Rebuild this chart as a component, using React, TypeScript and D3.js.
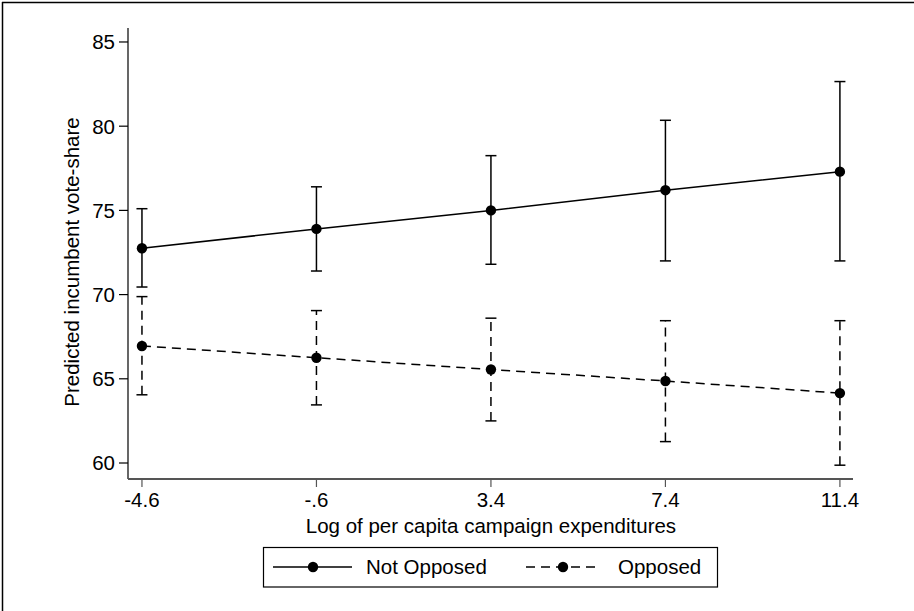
import React from "react";
import * as d3 from "d3";

// x positions (log of per capita campaign expenditures)
const xValues = [-4.6, -0.6, 3.4, 7.4, 11.4];
const xTicks = [-4.6, -0.6, 3.4, 7.4, 11.4];
const xTickLabels = ["-4.6", "-.6", "3.4", "7.4", "11.4"];
const yTicks = [60, 65, 70, 75, 80, 85];

// not opposed
const notOpposed = [72.75, 73.9, 75.0, 76.2, 77.3];
const notOpposedLo = [70.45, 71.4, 71.8, 72.0, 72.0];
const notOpposedHi = [75.1, 76.4, 78.25, 80.35, 82.65];

// opposed
const opposed = [66.95, 66.25, 65.55, 64.87, 64.15];
const opposedLo = [64.05, 63.45, 62.5, 61.27, 59.87];
const opposedHi = [69.88, 69.05, 68.6, 68.45, 68.45];

const seriesNames = ["Not Opposed", "Opposed"];

const W = 914;
const H = 611;
const margin = { top: 28, left: 128, right: 61, bottom: 132 };
const font = "'Liberation Sans', Arial, sans-serif";
const fs = 20.5;

const App = () => {
  const x = d3
    .scaleLinear()
    .domain([-4.92, 11.7])
    .range([margin.left, W - margin.right]);
  const y = d3
    .scaleLinear()
    .domain([59.05, 85.83])
    .range([H - margin.bottom, margin.top]);

  const line = d3
    .line<number>()
    .x((_, i) => x(xValues[i]))
    .y((d) => y(d));

  const series = [
    { vals: notOpposed, lo: notOpposedLo, hi: notOpposedHi, dash: undefined },
    { vals: opposed, lo: opposedLo, hi: opposedHi, dash: "9,6" },
  ];

  const x0 = margin.left;
  const yBase = H - margin.bottom;
  const cap = 5.5;

  return (
    <svg
      width={W}
      height={H}
      style={{ position: "absolute", left: 0, top: 0, background: "#fff" }}
      fontFamily={font}
    >
      <rect x={0} y={0} width={W} height={H} fill="#fff" />
      {/* outer frame */}
      <line x1={2} y1={2.5} x2={W} y2={2.5} stroke="#000" strokeWidth={1.5} />
      <line x1={2.5} y1={2} x2={2.5} y2={H} stroke="#000" strokeWidth={1.5} />

      {/* y axis */}
      <line x1={x0} y1={margin.top} x2={x0} y2={yBase} stroke="#000" strokeWidth={1.2} />
      {yTicks.map((t) => (
        <g key={t}>
          <line x1={x0 - 9} x2={x0} y1={y(t)} y2={y(t)} stroke="#000" strokeWidth={1.2} />
          <text x={x0 - 13} y={y(t)} dy="0.36em" textAnchor="end" fontSize={fs}>
            {t}
          </text>
        </g>
      ))}
      <text
        transform={`translate(79,262) rotate(-90)`}
        textAnchor="middle"
        fontSize={fs}
      >
        Predicted incumbent vote-share
      </text>

      {/* x axis */}
      <line x1={x0} y1={yBase} x2={W - margin.right} y2={yBase} stroke="#555" strokeWidth={2} />
      {xTicks.map((t, i) => (
        <g key={t}>
          <line x1={x(t)} x2={x(t)} y1={yBase} y2={yBase + 8} stroke="#555" strokeWidth={1.2} />
          <text x={x(t)} y={yBase + 28} textAnchor="middle" fontSize={fs}>
            {xTickLabels[i]}
          </text>
        </g>
      ))}
      <text x={x(3.4)} y={yBase + 54} textAnchor="middle" fontSize={fs}>
        Log of per capita campaign expenditures
      </text>

      {/* series */}
      {series.map((s, si) => (
        <g key={si}>
          {s.vals.map((_, i) => {
            const cx = x(xValues[i]);
            return (
              <g key={i} stroke="#000" strokeWidth={1.5}>
                <line x1={cx} x2={cx} y1={y(s.lo[i])} y2={y(s.hi[i])} strokeDasharray={s.dash} />
                <line x1={cx - cap} x2={cx + cap} y1={y(s.lo[i])} y2={y(s.lo[i])} />
                <line x1={cx - cap} x2={cx + cap} y1={y(s.hi[i])} y2={y(s.hi[i])} />
              </g>
            );
          })}
          <path d={line(s.vals) || ""} fill="none" stroke="#000" strokeWidth={1.5} strokeDasharray={s.dash} />
          {s.vals.map((v, i) => (
            <circle key={i} cx={x(xValues[i])} cy={y(v)} r={5.2} fill="#000" />
          ))}
        </g>
      ))}

      {/* legend */}
      <rect x={263.5} y={547.5} width={454} height={39.5} fill="#fff" stroke="#000" strokeWidth={1.2} />
      <line x1={273} x2={352} y1={567} y2={567} stroke="#000" strokeWidth={1.5} />
      <circle cx={313} cy={567} r={5.2} fill="#000" />
      <text x={366} y={567} dy="0.36em" fontSize={fs}>
        {seriesNames[0]}
      </text>
      <line x1={526} x2={601} y1={567} y2={567} stroke="#000" strokeWidth={1.5} strokeDasharray="9,6" />
      <circle cx={563} cy={567} r={5.2} fill="#000" />
      <text x={618} y={567} dy="0.36em" fontSize={fs}>
        {seriesNames[1]}
      </text>
    </svg>
  );
};

export default App;
